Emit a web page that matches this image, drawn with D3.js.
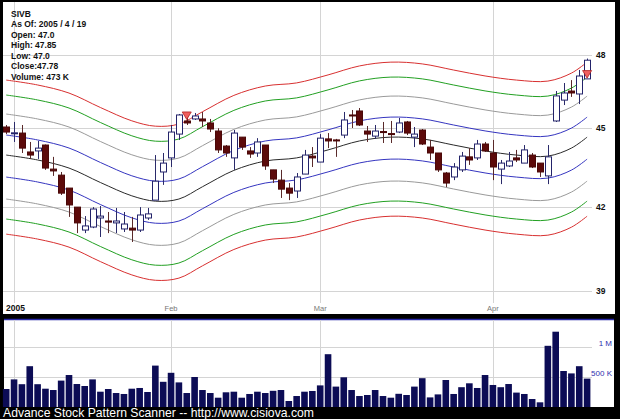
<!DOCTYPE html>
<html><head><meta charset="utf-8">
<script src="https://cdn.jsdelivr.net/npm/d3@7"></script>
<style>body{margin:0;background:#000;overflow:hidden}svg{display:block}</style>
</head><body><svg id="c" width="620" height="419"></svg>
<script>
const dates = ["2004-12-31",
"2005-01-03","2005-01-04","2005-01-05","2005-01-06","2005-01-07","2005-01-10","2005-01-11","2005-01-12","2005-01-13","2005-01-14",
"2005-01-18","2005-01-19","2005-01-20","2005-01-21","2005-01-24","2005-01-25","2005-01-26","2005-01-27","2005-01-28","2005-01-31",
"2005-02-01","2005-02-02","2005-02-03","2005-02-04","2005-02-07","2005-02-08","2005-02-09","2005-02-10","2005-02-11","2005-02-14",
"2005-02-15","2005-02-16","2005-02-17","2005-02-18","2005-02-22","2005-02-23","2005-02-24","2005-02-25","2005-02-28",
"2005-03-01","2005-03-02","2005-03-03","2005-03-04","2005-03-07","2005-03-08","2005-03-09","2005-03-10","2005-03-11","2005-03-14",
"2005-03-15","2005-03-16","2005-03-17","2005-03-18","2005-03-21","2005-03-22","2005-03-23","2005-03-24","2005-03-28","2005-03-29",
"2005-03-30","2005-03-31",
"2005-04-01","2005-04-04","2005-04-05","2005-04-06","2005-04-07","2005-04-08","2005-04-11","2005-04-12","2005-04-13","2005-04-14",
"2005-04-15","2005-04-18","2005-04-19"];
const opens  = [45.05,44.79,44.81,44.07,44.11,44.34,43.41,43.18,42.69,41.98,41.14,41.25,41.58,41.47,41.40,41.18,41.21,41.14,41.58,42.24,
43.30,43.84,44.77,45.29,45.37,45.37,45.21,44.89,44.30,43.84,44.65,44.11,44.03,44.34,43.38,42.99,42.69,42.58,43.22,43.91,
43.68,44.58,44.54,44.73,45.53,45.69,44.89,44.69,44.87,44.79,44.85,45.25,44.65,44.93,44.26,44.03,43.26,43.11,43.38,43.88,
43.84,44.38,44.03,43.41,43.53,43.84,43.64,43.95,43.64,43.15,45.29,46.13,46.50,46.38,47.00];
const highs  = [45.13,45.25,45.13,44.46,44.50,44.36,43.88,43.30,42.69,41.98,41.65,41.98,42.02,41.80,41.95,41.80,41.62,41.98,41.95,43.95,
44.03,45.13,45.57,45.53,45.61,45.65,45.37,45.00,44.34,44.93,44.65,44.26,44.61,44.34,43.38,43.38,42.88,43.26,44.15,44.26,
44.77,44.81,44.58,45.65,45.73,45.81,45.09,45.13,45.25,45.29,45.41,45.29,45.05,44.97,44.54,44.03,43.30,43.64,44.07,44.22,
44.54,44.46,44.54,43.76,44.07,44.15,44.34,44.03,43.64,44.34,46.50,46.83,46.95,47.37,47.85];
const lows   = [44.77,44.46,44.03,43.80,43.80,43.38,43.15,42.43,41.62,41.03,41.03,41.21,40.89,41.03,41.03,41.07,40.71,41.07,41.51,42.24,
42.81,43.49,44.54,45.13,45.33,45.05,44.85,44.03,43.88,43.38,44.15,43.84,43.88,43.38,42.88,42.32,42.24,42.32,43.22,43.49,
43.68,44.22,43.88,44.61,45.01,45.09,44.46,44.58,44.42,44.42,44.81,44.73,44.26,44.34,43.76,43.30,42.73,42.99,43.30,43.57,
43.76,44.07,42.99,42.84,43.49,43.68,43.64,43.45,43.11,42.84,45.25,45.93,46.26,45.97,47.00];
const closes = [44.85,44.82,44.22,43.95,44.22,43.45,43.34,42.50,42.06,41.40,41.29,41.91,41.65,41.43,41.47,41.36,41.14,41.69,41.73,42.95,
43.64,44.85,45.53,45.21,45.49,45.29,44.97,44.15,44.03,44.81,44.26,43.99,44.46,43.53,43.03,42.65,42.50,43.11,43.95,43.84,
44.61,44.50,44.50,45.33,45.49,45.13,44.77,44.89,44.83,44.75,45.21,44.81,44.77,44.38,44.03,43.38,42.88,43.49,43.91,43.76,
44.38,44.11,43.49,43.64,43.72,43.76,44.15,43.49,43.30,43.88,46.30,46.42,46.42,47.12,47.78];
const volumes = [300,460,380,680,380,305,283,440,533,383,350,460,255,300,233,217,305,317,250,690,
420,570,410,233,500,283,233,155,245,255,155,217,255,233,270,283,100,183,255,267,
360,880,340,495,283,183,200,283,183,155,220,200,340,480,160,210,450,217,330,395,
317,533,367,330,383,240,217,133,78,1020,1255,600,560,680,473]; // thousands

const monthIdx = [1,21,40,62];
const monthLabels = ["2005","Feb","Mar","Apr"];
const priceTicks = [39,42,45,48];
const volTicks = [500,1000];
const volTickLabels = ["500 K","1 M"];

// smooth channel: centre line sampled at day indices, band multipliers
const bandIdx    = [0,4,8,12,16,19,22,25,29,33,37,41,45,49,53,57,61,65,69,72,74];
const centerLine = [43.95,43.76,43.45,42.90,42.40,42.20,42.28,42.74,43.36,43.72,43.84,44.15,44.50,44.65,44.58,44.34,44.11,43.95,43.91,44.22,44.65];
const bandUpper = [1.0178,1.0368,1.0543,1.0683];
const bandLower = [0.9808,0.9620,0.9452,0.9327];
const bandColors = ["#3535c0","#9a9a9a","#22a022","#d83030"];

const markerIdx = [23,74];
const markerPrice = [45.51,47.20];

const infoLines = ["SIVB","As Of: 2005 / 4 / 19","Open: 47.0","High: 47.85","Low: 47.0","Close:47.78","Volume: 473 K"];
const footer = "Advance Stock Pattern Scanner -- http://www.cisiova.com";

const svg = d3.select("#c");
svg.append("rect").attr("width",620).attr("height",419).attr("fill","#000");
svg.append("rect").attr("x",3).attr("y",2).attr("width",612).attr("height",312).attr("fill","#fff");
svg.append("rect").attr("x",4).attr("y",320).attr("width",610).attr("height",87).attr("fill","#fff");
svg.append("line").attr("x1",4).attr("x2",614).attr("y1",319.5).attr("y2",319.5).attr("stroke","#2a2aa8").attr("stroke-width",1.5);

const x = d3.scaleLinear().domain([0,dates.length-1]).range([6.2,587.1]);
const y = d3.scaleLog().domain([39,48]).range([290.7,55]);
const yv = d3.scaleLinear().domain([0,1000]).range([407,347]);

svg.append("defs").append("clipPath").attr("id","mainclip").append("rect").attr("x",3).attr("y",2).attr("width",612).attr("height",312);

// grid
const g = svg.append("g");
g.selectAll(".hg").data(priceTicks).join("line")
 .attr("x1",3).attr("x2",592).attr("y1",d=>Math.round(y(d))+0.5).attr("y2",d=>Math.round(y(d))+0.5)
 .attr("stroke","#d4d4d4");
g.selectAll(".vg").data(monthIdx).join("line")
 .attr("x1",d=>Math.round(x(d))+0.5).attr("x2",d=>Math.round(x(d))+0.5).attr("y1",2).attr("y2",303)
 .attr("stroke","#d4d4d4");
g.selectAll(".vg2").data(monthIdx).join("line")
 .attr("x1",d=>Math.round(x(d))+0.5).attr("x2",d=>Math.round(x(d))+0.5).attr("y1",320).attr("y2",407)
 .attr("stroke","#d4d4d4");
g.selectAll(".vh").data(volTicks).join("line")
 .attr("x1",4).attr("x2",592).attr("y1",d=>Math.round(yv(d))+0.5).attr("y2",d=>Math.round(yv(d))+0.5)
 .attr("stroke","#d4d4d4");

// bands
const bands = svg.append("g").attr("clip-path","url(#mainclip)");
const line = d3.line().x(d=>x(d[0])).y(d=>y(d[1])).curve(d3.curveCatmullRom.alpha(0.5));
bands.append("path").attr("d",line(bandIdx.map((d,i)=>[d,centerLine[i]]))).attr("fill","none").attr("stroke","#2a2a2a").attr("stroke-width",1);
bandUpper.forEach((m,k)=>{
  bands.append("path").attr("d",line(bandIdx.map((d,i)=>[d,centerLine[i]*m]))).attr("fill","none").attr("stroke",bandColors[k]).attr("stroke-width",1);
  bands.append("path").attr("d",line(bandIdx.map((d,i)=>[d,centerLine[i]*bandLower[k]]))).attr("fill","none").attr("stroke",bandColors[k]).attr("stroke-width",1);
});

// candles
const cg = svg.append("g").attr("clip-path","url(#mainclip)");
const idx = d3.range(dates.length);
cg.selectAll(".wick").data(idx).join("line")
 .attr("x1",i=>Math.round(x(i))+0.5).attr("x2",i=>Math.round(x(i))+0.5)
 .attr("y1",i=>y(highs[i])).attr("y2",i=>y(lows[i]))
 .attr("stroke",i=>closes[i]>=opens[i]?"#2a2a6a":"#5a2a2a").attr("stroke-width",1);
cg.selectAll(".body").data(idx).join("rect")
 .attr("x",i=>Math.round(x(i))-2.5).attr("width",6)
 .attr("y",i=>y(Math.max(opens[i],closes[i])))
 .attr("height",i=>Math.max(1,Math.abs(y(opens[i])-y(closes[i]))))
 .attr("fill",i=>closes[i]>=opens[i]?"#fff":"#5c0a0a")
 .attr("stroke",i=>closes[i]>=opens[i]?"#23236a":"#4a0808").attr("stroke-width",1);

// markers
svg.selectAll(".mk").data(markerIdx).join("path")
 .attr("d",(d,k)=>{const cx=x(d), cy=y(markerPrice[k]); return `M${cx-4.5},${cy-3.5}L${cx+4.5},${cy-3.5}L${cx},${cy+4}Z`;})
 .attr("fill","#f06060").attr("stroke","#b02020").attr("stroke-width",0.8);

// volume bars
svg.selectAll(".vb").data(idx).join("rect")
 .attr("x",i=>x(i)-3.3).attr("width",6.6)
 .attr("y",i=>yv(volumes[i])).attr("height",i=>407-yv(volumes[i]))
 .attr("fill","#0c0c55");

// price labels
svg.selectAll(".pl").data(priceTicks).join("text")
 .attr("x",596).attr("y",d=>y(d)+3)
 .attr("font-family","Liberation Sans, Arial, sans-serif").attr("font-size",8.5).attr("font-weight","bold").attr("fill","#111")
 .text(d=>d);
// month labels
svg.selectAll(".ml").data(monthIdx).join("text")
 .attr("x",(d,k)=>k===0?6:x(d)).attr("y",311)
 .attr("text-anchor",(d,k)=>k===0?"start":"middle")
 .attr("font-family","Liberation Sans, Arial, sans-serif")
 .attr("font-size",(d,k)=>k===0?8.5:7.5).attr("font-weight",(d,k)=>k===0?"bold":"normal")
 .attr("fill",(d,k)=>k===0?"#111":"#777")
 .text((d,k)=>monthLabels[k]);
// volume labels
svg.selectAll(".vl").data(volTicks).join("text")
 .attr("x",612).attr("y",d=>yv(d)-1).attr("text-anchor","end")
 .attr("font-family","Liberation Sans, Arial, sans-serif").attr("font-size",8).attr("fill","#3030b0")
 .text((d,k)=>volTickLabels[k]);
// info
svg.selectAll(".info").data(infoLines).join("text")
 .attr("x",11).attr("y",(d,k)=>16.5+k*10.5)
 .attr("font-family","Liberation Sans, Arial, sans-serif").attr("font-size",8.5).attr("font-weight","bold").attr("fill","#111")
 .text(d=>d);
svg.append("text").attr("x",3).attr("y",416.5)
 .attr("font-family","Liberation Sans, Arial, sans-serif").attr("font-size",12.2).attr("fill","#fff")
 .text(footer);
</script></body></html>
